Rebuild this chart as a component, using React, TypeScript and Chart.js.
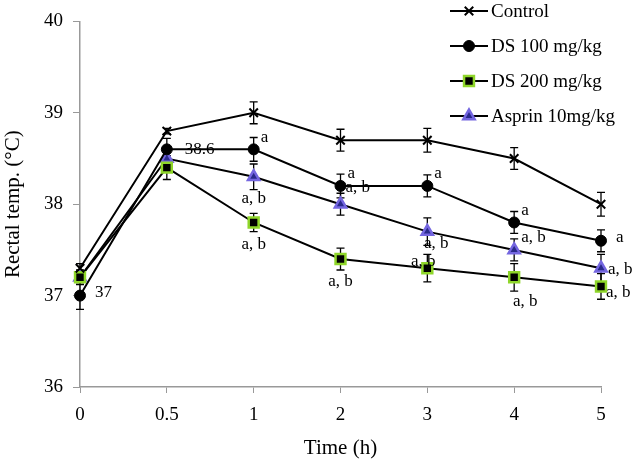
import React, { useEffect, useRef } from 'react';
import { Chart, registerables } from 'chart.js';

Chart.register(...registerables);

// ---- data ----
const timeLabels = ['0', '0.5', '1', '2', '3', '4', '5'];
const seriesNames = ['Control', 'DS 100 mg/kg', 'DS 200 mg/kg', 'Asprin 10mg/kg'];
const controlValues = [37.3, 38.8, 39.0, 38.7, 38.7, 38.5, 38.0];
const ds100Values = [37.0, 38.6, 38.6, 38.2, 38.2, 37.8, 37.6];
const ds200Values = [37.2, 38.4, 37.8, 37.4, 37.3, 37.2, 37.1];
const aspirinValues = [37.2, 38.5, 38.3, 38.0, 37.7, 37.5, 37.3];
const controlErrors = [0.05, 0.03, 0.12, 0.12, 0.13, 0.12, 0.13];
const ds100Errors = [0.15, 0.12, 0.13, 0.13, 0.12, 0.12, 0.12];
const ds200Errors = [0.08, 0.13, 0.1, 0.12, 0.15, 0.15, 0.14];
const aspirinErrors = [0.06, 0.08, 0.14, 0.12, 0.15, 0.12, 0.15];
const yMin = 36;
const yMax = 40;
const yStep = 1;
const xTitle = 'Time (h)';
const yTitle = 'Rectal temp. (°C)';

// significance / value labels: series index, point index, text, placement
const pointNotes = [
  { series: 1, index: 0, text: '37', place: 'right' },
  { series: 1, index: 1, text: '38.6', place: 'rightFar' },
  { series: 1, index: 2, text: 'a', place: 'upRight' },
  { series: 1, index: 3, text: 'a', place: 'upRight' },
  { series: 1, index: 4, text: 'a', place: 'upRight' },
  { series: 1, index: 5, text: 'a', place: 'upRight' },
  { series: 1, index: 6, text: 'a', place: 'right' },
  { series: 3, index: 2, text: 'a, b', place: 'below' },
  { series: 3, index: 3, text: 'a, b', place: 'upRightHigh' },
  { series: 3, index: 4, text: 'a, b', place: 'belowNear' },
  { series: 3, index: 5, text: 'a, b', place: 'upRight' },
  { series: 3, index: 6, text: 'a, b', place: 'nearRight' },
  { series: 2, index: 2, text: 'a, b', place: 'below' },
  { series: 2, index: 3, text: 'a, b', place: 'below' },
  { series: 2, index: 4, text: 'a, b', place: 'over' },
  { series: 2, index: 5, text: 'a, b', place: 'belowRight' },
  { series: 2, index: 6, text: 'a, b', place: 'downRight' },
];

const seriesValues = [controlValues, ds100Values, ds200Values, aspirinValues];
const seriesErrors = [controlErrors, ds100Errors, ds200Errors, aspirinErrors];

// ---- styles ----
const FONT = "'Liberation Serif', 'Times New Roman', serif";
const markerStyles = [
  { style: 'crossRot', radius: 6, fill: '#000', stroke: '#000', width: 2 },
  { style: 'circle', radius: 5.5, fill: '#000', stroke: '#000', width: 1 },
  { style: 'rect', radius: 7, fill: '#000', stroke: '#8fd62a', width: 2.5 },
  { style: 'triangle', radius: 6.5, fill: '#2a2a8c', stroke: '#7466e0', width: 2.5 },
];

const placeOffsets: Record<string, { dx: number; dy: number; align: CanvasTextAlign }> = {
  right: { dx: 15, dy: -3, align: 'left' },
  rightFar: { dx: 18, dy: 0, align: 'left' },
  nearRight: { dx: 7, dy: 1, align: 'left' },
  upRight: { dx: 7, dy: -12, align: 'left' },
  upRightHigh: { dx: 5, dy: -17, align: 'left' },
  downRight: { dx: 5, dy: 6, align: 'left' },
  below: { dx: 0, dy: 22, align: 'center' },
  belowNear: { dx: 9, dy: 12, align: 'center' },
  belowRight: { dx: 11, dy: 24, align: 'center' },
  over: { dx: -4, dy: -7, align: 'center' },
};

function drawMarker(ctx: CanvasRenderingContext2D, m: any, x: number, y: number) {
  ctx.save();
  ctx.fillStyle = m.fill;
  ctx.strokeStyle = m.stroke;
  ctx.lineWidth = m.width;
  const r = m.radius;
  ctx.beginPath();
  if (m.style === 'crossRot') {
    const d = r * Math.SQRT1_2;
    ctx.moveTo(x - d, y - d);
    ctx.lineTo(x + d, y + d);
    ctx.moveTo(x + d, y - d);
    ctx.lineTo(x - d, y + d);
    ctx.stroke();
  } else if (m.style === 'circle') {
    ctx.arc(x, y, r, 0, Math.PI * 2);
    ctx.fill();
    ctx.stroke();
  } else if (m.style === 'rect') {
    const s = r * Math.SQRT1_2;
    ctx.rect(x - s, y - s, 2 * s, 2 * s);
    ctx.fill();
    ctx.stroke();
  } else if (m.style === 'triangle') {
    for (let k = 0; k < 3; k++) {
      const a = (k * 2 * Math.PI) / 3;
      const px = x + Math.sin(a) * r;
      const py = y - Math.cos(a) * r;
      if (k === 0) ctx.moveTo(px, py);
      else ctx.lineTo(px, py);
    }
    ctx.closePath();
    ctx.fill();
    ctx.stroke();
  }
  ctx.restore();
}

const errorBarPlugin = {
  id: 'errorBars',
  beforeDatasetsDraw(chart: any) {
    const ctx = chart.ctx;
    const yScale = chart.scales.y;
    ctx.save();
    ctx.strokeStyle = '#000';
    ctx.lineWidth = 1.3;
    seriesValues.forEach((vals, si) => {
      const meta = chart.getDatasetMeta(si);
      vals.forEach((v, i) => {
        const el = meta.data[i];
        if (!el) return;
        const e = seriesErrors[si][i];
        const x = el.x;
        const y1 = yScale.getPixelForValue(v - e);
        const y2 = yScale.getPixelForValue(v + e);
        ctx.beginPath();
        ctx.moveTo(x, y1);
        ctx.lineTo(x, y2);
        ctx.moveTo(x - 4, y1);
        ctx.lineTo(x + 4, y1);
        ctx.moveTo(x - 4, y2);
        ctx.lineTo(x + 4, y2);
        ctx.stroke();
      });
    });
    ctx.restore();
  },
};

const notesPlugin = {
  id: 'notes',
  afterDatasetsDraw(chart: any) {
    const ctx = chart.ctx;
    ctx.save();
    ctx.fillStyle = '#000';
    ctx.font = `17px ${FONT}`;
    ctx.textBaseline = 'middle';
    pointNotes.forEach((n) => {
      const el = chart.getDatasetMeta(n.series).data[n.index];
      if (!el) return;
      const p = placeOffsets[n.place];
      ctx.textAlign = p.align;
      ctx.fillText(n.text, el.x + p.dx, el.y + p.dy);
    });
    ctx.restore();
  },
};

const legendPlugin = {
  id: 'customLegend',
  afterDraw(chart: any) {
    const ctx = chart.ctx;
    ctx.save();
    seriesNames.forEach((name, i) => {
      const y = 11 + i * 35;
      ctx.strokeStyle = '#000';
      ctx.lineWidth = 2;
      ctx.beginPath();
      ctx.moveTo(450, y);
      ctx.lineTo(488, y);
      ctx.stroke();
      drawMarker(ctx, markerStyles[i], 469, y);
      ctx.fillStyle = '#000';
      ctx.font = `19px ${FONT}`;
      ctx.textAlign = 'left';
      ctx.textBaseline = 'middle';
      ctx.fillText(name, 491, y + 1);
    });
    ctx.restore();
  },
};

export default function App() {
  const ref = useRef<HTMLCanvasElement | null>(null);

  useEffect(() => {
    if (!ref.current) return;
    const datasets = seriesValues.map((vals, i) => ({
      label: seriesNames[i],
      data: vals,
      borderColor: '#000',
      borderWidth: 2,
      tension: 0,
      pointStyle: markerStyles[i].style,
      pointRadius: markerStyles[i].radius,
      pointHoverRadius: markerStyles[i].radius,
      pointBackgroundColor: markerStyles[i].fill,
      pointBorderColor: markerStyles[i].stroke,
      pointBorderWidth: markerStyles[i].width,
    }));
    const chart = new Chart(ref.current, {
      type: 'line',
      data: { labels: timeLabels, datasets },
      options: {
        animation: false,
        responsive: true,
        maintainAspectRatio: false,
        layout: { padding: { top: 20, right: 32, left: 0, bottom: 0 } },
        plugins: {
          legend: { display: false },
          tooltip: { enabled: false },
        },
        scales: {
          x: {
            type: 'category',
            offset: false,
            afterFit: (s: any) => {
              s.height = 77;
            },
            grid: {
              drawOnChartArea: false,
              drawTicks: true,
              tickLength: 6,
              color: '#999',
            },
            border: { color: '#999', width: 1.5 },
            ticks: {
              color: '#000',
              padding: 11,
              font: { family: FONT, size: 19 },
              maxRotation: 0,
            },
            title: {
              display: true,
              text: xTitle,
              color: '#000',
              font: { family: FONT, size: 21 },
              padding: { top: 0, bottom: 3 },
            },
          },
          y: {
            min: yMin,
            max: yMax,
            afterFit: (s: any) => {
              s.width = 80;
            },
            grid: {
              drawOnChartArea: false,
              drawTicks: true,
              tickLength: 7,
              color: '#999',
            },
            border: { color: '#999', width: 1.5 },
            ticks: {
              stepSize: yStep,
              color: '#000',
              padding: 10,
              font: { family: FONT, size: 19 },
            },
            title: {
              display: true,
              text: yTitle,
              color: '#000',
              font: { family: FONT, size: 21 },
              padding: { top: 1, bottom: 0 },
            },
          },
        },
      },
      plugins: [errorBarPlugin, notesPlugin, legendPlugin],
    });
    return () => chart.destroy();
  }, []);

  return (
    <div
      style={{
        position: 'fixed',
        left: 0,
        top: 0,
        width: 633,
        height: 464,
        background: '#fff',
      }}
    >
      <canvas ref={ref} />
    </div>
  );
}
